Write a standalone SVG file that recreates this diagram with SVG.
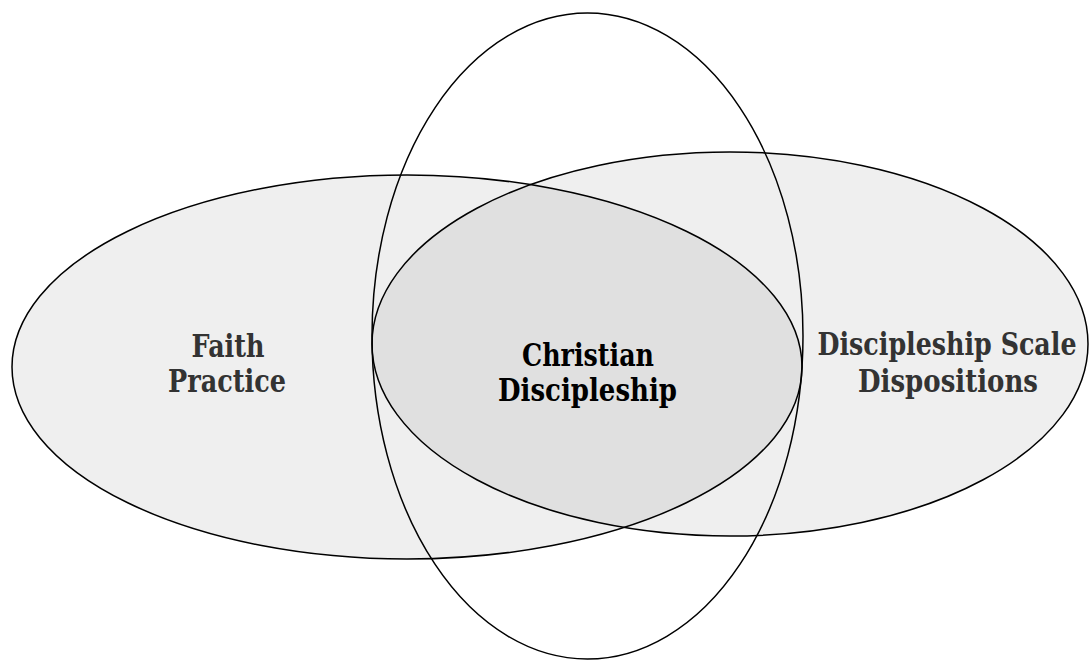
<svg xmlns="http://www.w3.org/2000/svg" width="1089" height="660" viewBox="0 0 1089 660">
<style>
  .set { fill: #000; fill-opacity: 0.063; stroke: #000; stroke-width: 1.5; }
  .ring { fill: none; stroke: #000; stroke-width: 1.5; }
  .lbl { font-family: "DejaVu Serif", "Liberation Serif", serif; font-weight: bold; font-size: 31px; text-anchor: middle; }
  .outer { fill: #333; }
  .inner { fill: #000; }
</style>
<rect width="1089" height="660" fill="#fff"/>
<g id="faith-practice">
  <ellipse class="set" cx="407" cy="367" rx="395" ry="192"/>
  <text class="lbl outer" x="228" y="357" textLength="73" lengthAdjust="spacingAndGlyphs">Faith</text>
  <text class="lbl outer" x="227" y="392" textLength="118" lengthAdjust="spacingAndGlyphs">Practice</text>
</g>
<g id="discipleship-scale">
  <ellipse class="set" cx="730" cy="344" rx="358" ry="192"/>
  <text class="lbl outer" x="947" y="355" textLength="259" lengthAdjust="spacingAndGlyphs">Discipleship Scale</text>
  <text class="lbl outer" x="948" y="392" textLength="180" lengthAdjust="spacingAndGlyphs">Dispositions</text>
</g>
<g id="christian-discipleship">
  <ellipse class="ring" cx="587.5" cy="336" rx="215.5" ry="323"/>
  <text class="lbl inner" x="588" y="366" textLength="132" lengthAdjust="spacingAndGlyphs">Christian</text>
  <text class="lbl inner" x="587.5" y="401" textLength="179" lengthAdjust="spacingAndGlyphs">Discipleship</text>
</g>
</svg>
